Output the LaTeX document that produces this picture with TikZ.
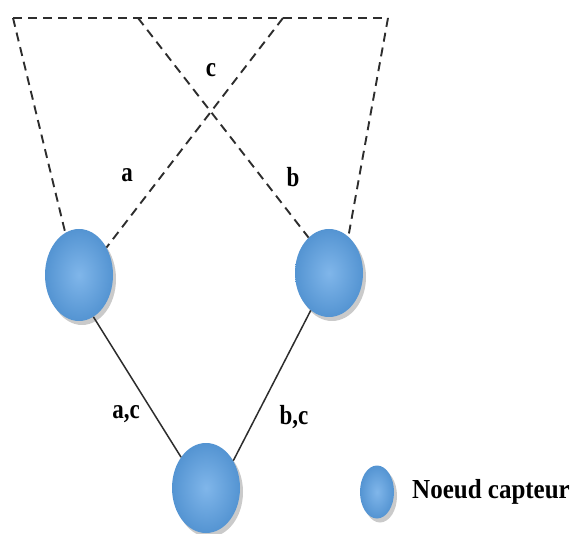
\documentclass[tikz,border=0pt]{standalone}
\usepackage{fontspec}
\setmainfont{Liberation Serif}
\usetikzlibrary{shapes.geometric,shadows}
\definecolor{nodeblue}{RGB}{84,148,210}
\definecolor{nodelight}{RGB}{128,182,234}
\definecolor{linegray}{RGB}{45,45,45}
\tikzset{
  sensor/.style={ellipse, draw=none, inner sep=0pt, shading=radial,
    inner color=nodelight, outer color=nodeblue,
    drop shadow={shadow xshift=3pt, shadow yshift=-4pt, opacity=0.35, fill=black!60}},
  bignode/.style={sensor, minimum width=68pt, minimum height=92pt},
  dashline/.style={draw=linegray, line width=1.9pt, dash pattern=on 9pt off 6pt},
  solidline/.style={draw=linegray, line width=1.5pt},
  lbl/.style={font=\fontsize{23}{26}\selectfont\bfseries, inner sep=0pt}
}
\newcommand{\tallt}[1]{\scalebox{1}[1.2]{#1}}
\begin{document}
\begin{tikzpicture}[x=1pt,y=-1pt]
\useasboundingbox (0,0) rectangle (573,534);
\node[bignode] (L) at (79,275) {};
\node[bignode, minimum height=88pt] (R) at (329,273) {};
\node[bignode, minimum height=90pt] (B) at (206,488) {};
\node[sensor, minimum width=34pt, minimum height=53pt] (K) at (377,492) {};
\node[anchor=west, inner sep=0pt, font=\fontsize{25}{28}\selectfont\bfseries] (KT) at (412,492) {\scalebox{1}[1.1]{Noeud capteur}};
\coordinate (TL) at (13,18);
\coordinate (T1) at (138,18);
\coordinate (T2) at (283,18);
\coordinate (TR) at (388,18);
\draw[dashline] (TL) -- (TR);
\draw[dashline] (TL) -- (L.108);
\draw[dashline] (T2) -- (L.45);
\draw[dashline] (T1) -- (R.120);
\draw[dashline] (TR) -- (R.62);
\draw[solidline] (L.-71) -- (B.129);
\draw[solidline] (R.-116) -- (B.45);
\node[lbl] (la) at (127,175) {\tallt{a}};
\node[lbl] (lb) at (293,177) {\tallt{b}};
\node[lbl] (lc) at (211,70) {\tallt{c}};
\node[lbl] (lac) at (126,414) {\tallt{a,c}};
\node[lbl] (lbc) at (294,417) {\tallt{b,c}};
\end{tikzpicture}
\end{document}
